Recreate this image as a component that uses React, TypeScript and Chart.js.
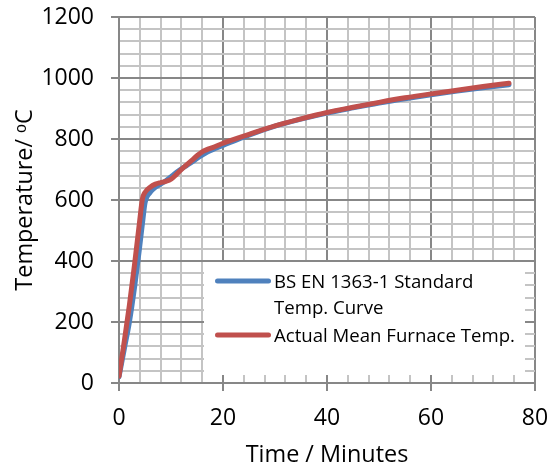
import React, { useEffect, useRef } from 'react';
import { Chart, registerables } from 'chart.js';

Chart.register(...registerables);

// ---- data ----
const timeMinutes = [0, 1, 2, 3, 4, 4.5, 5, 6, 7, 8, 9, 10, 11, 12, 13, 14, 15, 16, 17, 18, 20, 25, 30, 35, 40, 45, 50, 55, 60, 65, 70, 75];
const standardCurve = [20, 110, 200, 315, 450, 522, 590, 625, 642, 652, 663, 676, 690, 702, 713, 724, 736, 747, 757, 765, 779, 813, 842, 865, 885, 902, 918, 932, 945, 957, 968, 978];
const actualFurnace = [22, 135, 255, 390, 535, 603, 625, 642, 652, 657, 661, 668, 683, 700, 715, 730, 745, 758, 766, 772, 786, 815, 843, 866, 887, 904, 920, 935, 948, 960, 972, 983];
const seriesLabels = ['BS EN 1363-1 Standard Temp. Curve', 'Actual Mean Furnace Temp.'];
const legendLines = [['BS EN 1363-1 Standard', 'Temp. Curve'], ['Actual Mean Furnace Temp.']];
const seriesColors = ['#4F81BD', '#C0504D'];
const xAxisTitle = 'Time / Minutes';
const yAxisTitle = 'Temperature/ \u1D52C';
const xMajorStep = 20;
const xMinorStep = 4;
const yMajorStep = 200;
const yMinorStep = 40;
const xRange = [0, 80];
const yRange = [0, 1200];

const FONT = "'Open Sans', sans-serif";
const MAJOR_GRID = '#878787';
const MINOR_GRID = '#c4c4c4';

const insideLegend = {
  id: 'insideLegend',
  afterDraw(chart: any) {
    const { ctx, chartArea } = chart;
    const left = chartArea.left + 85;
    const top = chartArea.top + 245;
    const right = chartArea.right - 10;
    const bottom = chartArea.bottom - 8;
    ctx.save();
    ctx.fillStyle = '#ffffff';
    ctx.fillRect(left, top, right - left, bottom - top);
    ctx.font = `18.6px ${FONT}`;
    ctx.textBaseline = 'middle';
    ctx.textAlign = 'left';
    const textX = left + 70;
    const lineH = 26;
    let rowY = top + 19;
    chart.data.datasets.forEach((ds: any, di: number) => {
      const lines = legendLines[di] || [String(ds.label)];
      ctx.strokeStyle = ds.borderColor;
      ctx.lineWidth = 5;
      ctx.lineCap = 'round';
      ctx.beginPath();
      ctx.moveTo(left + 13.5, rowY);
      ctx.lineTo(left + 64.5, rowY);
      ctx.stroke();
      ctx.fillStyle = '#000000';
      lines.forEach((ln, i) => {
        ctx.fillText(ln, textX, rowY + 1.3 + i * lineH);
      });
      rowY += lines.length * lineH + 2;
    });
    ctx.restore();
  },
};

function zeroPadding(scale: any) {
  scale.paddingTop = 0;
  scale.paddingBottom = 0;
  scale.paddingLeft = 0;
  scale.paddingRight = 0;
}

export default function App() {
  const canvasRef = useRef<HTMLCanvasElement | null>(null);

  useEffect(() => {
    if (!canvasRef.current) return;
    const chart = new Chart(canvasRef.current, {
      type: 'line',
      data: {
        datasets: [
          {
            label: seriesLabels[0],
            data: timeMinutes.map((t, i) => ({ x: t, y: standardCurve[i] })),
            borderColor: seriesColors[0],
            backgroundColor: seriesColors[0],
            borderWidth: 5,
            pointRadius: 0,
            cubicInterpolationMode: 'monotone',
            borderCapStyle: 'round',
            borderJoinStyle: 'round',
            order: 1,
          },
          {
            label: seriesLabels[1],
            data: timeMinutes.map((t, i) => ({ x: t, y: actualFurnace[i] })),
            borderColor: seriesColors[1],
            backgroundColor: seriesColors[1],
            borderWidth: 5,
            pointRadius: 0,
            cubicInterpolationMode: 'monotone',
            borderCapStyle: 'round',
            borderJoinStyle: 'round',
            order: 0,
          },
        ],
      },
      options: {
        responsive: false,
        animation: false,
        devicePixelRatio: 1,
        layout: { padding: { left: 0, top: 17, right: 17, bottom: 0 } },
        plugins: {
          legend: { display: false },
          tooltip: { enabled: false },
        },
        scales: {
          x: {
            type: 'linear',
            min: xRange[0],
            max: xRange[1],
            afterFit: (scale: any) => {
              scale.height = 84;
              zeroPadding(scale);
            },
            ticks: {
              stepSize: xMinorStep,
              maxTicksLimit: 1000,
              autoSkip: false,
              maxRotation: 0,
              padding: 14,
              color: '#000000',
              font: { family: FONT, size: 23 },
              callback: (v: any) => (Number(v) % xMajorStep === 0 ? String(v) : ''),
            },
            grid: {
              color: (c: any) => (c.tick && c.tick.value % xMajorStep === 0 ? MAJOR_GRID : MINOR_GRID),
              tickColor: (c: any) => (c.tick && c.tick.value % xMajorStep === 0 ? MAJOR_GRID : 'rgba(0,0,0,0)'),
              lineWidth: 2,
              tickLength: 8,
            },
            border: { display: true, color: MAJOR_GRID, width: 2 },
            title: {
              display: true,
              text: xAxisTitle,
              color: '#000000',
              font: { family: FONT, size: 23.4, lineHeight: 1 },
              padding: { top: 0, bottom: 0 },
            },
          },
          y: {
            type: 'linear',
            min: yRange[0],
            max: yRange[1],
            afterFit: (scale: any) => {
              scale.width = 119;
              zeroPadding(scale);
            },
            ticks: {
              stepSize: yMinorStep,
              maxTicksLimit: 1000,
              autoSkip: false,
              padding: 17,
              color: '#000000',
              font: { family: FONT, size: 23 },
              callback: (v: any) => (Number(v) % yMajorStep === 0 ? String(v) : ''),
            },
            grid: {
              color: (c: any) => (c.tick && c.tick.value % yMajorStep === 0 ? MAJOR_GRID : MINOR_GRID),
              tickColor: (c: any) => (c.tick && c.tick.value % yMajorStep === 0 ? MAJOR_GRID : 'rgba(0,0,0,0)'),
              lineWidth: 2,
              tickLength: 8,
            },
            border: { display: true, color: MAJOR_GRID, width: 2 },
            title: {
              display: true,
              text: yAxisTitle,
              color: '#000000',
              font: { family: FONT, size: 23.4, lineHeight: 1 },
              padding: { top: 13.6, bottom: 0 },
            },
          },
        },
      },
      plugins: [insideLegend],
    } as any);
    return () => chart.destroy();
  }, []);

  return (
    <div style={{ position: 'absolute', left: 0, top: 0, width: 552, height: 467, background: '#ffffff' }}>
      <canvas ref={canvasRef} width={552} height={467} style={{ display: 'block' }} />
    </div>
  );
}
